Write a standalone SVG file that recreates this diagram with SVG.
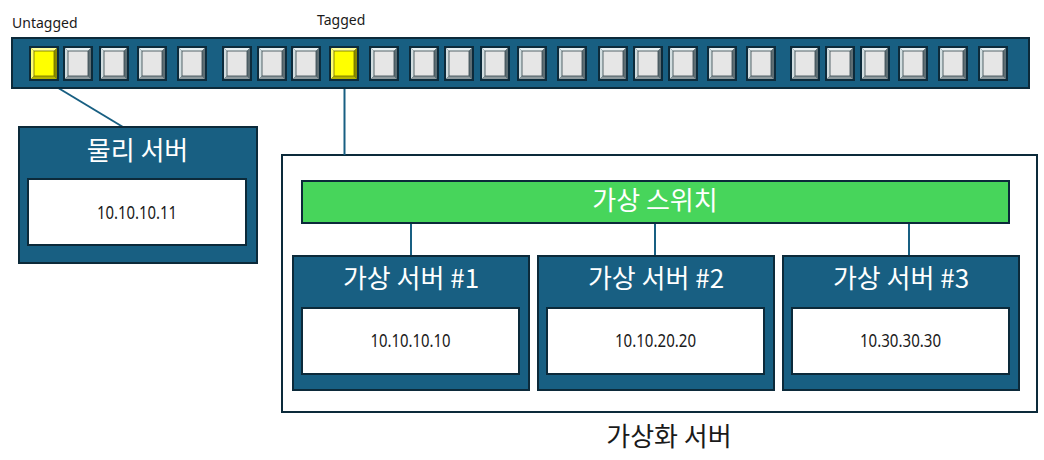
<svg xmlns="http://www.w3.org/2000/svg" xmlns:xlink="http://www.w3.org/1999/xlink" width="1044" height="460" viewBox="0 0 1044 460">
<style>
.blue{fill:#185f82;stroke:#0c2a3a;stroke-width:2}
.white{fill:#ffffff;stroke:#0c2a3a;stroke-width:2}
.green{fill:#47d55b;stroke:#0c2a3a;stroke-width:2}
.conn{stroke:#185f82;stroke-width:2;fill:none}
.title{font-family:"Noto Sans CJK KR","Noto Sans",sans-serif;font-size:26px;fill:#ffffff;text-anchor:middle}
.ip{font-family:"Noto Sans","Noto Sans CJK KR",sans-serif;font-size:18px;fill:#1a1a1a;text-anchor:middle}
.small{font-family:"Noto Sans",sans-serif;font-size:14px;fill:#1a1a1a}
.label{font-family:"Noto Sans CJK KR","Noto Sans",sans-serif;font-size:26px;fill:#1a1a1a;text-anchor:middle}
</style>
<defs>
<g id="port">
<rect x="0" y="0" width="30" height="35" fill="#0d2b3b"/>
<polygon points="2,2 28,2 25,5 5,5" fill="#e9f1f3"/>
<polygon points="2,2 5,5 5,30 2,33" fill="#d2dde0"/>
<polygon points="28,2 28,33 25,30 25,5" fill="#5d6d73"/>
<polygon points="2,33 28,33 25,30 5,30" fill="#8e9a9e"/>
<rect x="5" y="5" width="20" height="25" fill="#e6e6e6" stroke="#33454c" stroke-width="0.8"/>
</g>
<g id="portY">
<rect x="0" y="0" width="30" height="35" fill="#0d2b3b"/>
<polygon points="2,2 28,2 25,5 5,5" fill="#ffff99"/>
<polygon points="2,2 5,5 5,30 2,33" fill="#ffff70"/>
<polygon points="28,2 28,33 25,30 25,5" fill="#8a8a00"/>
<polygon points="2,33 28,33 25,30 5,30" fill="#b5b500"/>
<rect x="5" y="5" width="20" height="25" fill="#ffff00" stroke="#6b6b00" stroke-width="0.8"/>
</g>
</defs>

<g id="virtualization-server">
<rect class="white" x="282" y="155" width="755" height="257"/>
<text class="label" x="669" y="446">가상화 서버</text>
</g>

<g id="connectors">
<line class="conn" x1="45" y1="80" x2="123" y2="127"/>
<line class="conn" x1="344.5" y1="81" x2="344.5" y2="155"/>
<line class="conn" x1="411" y1="223" x2="411" y2="256"/>
<line class="conn" x1="655" y1="223" x2="655" y2="256"/>
<line class="conn" x1="909" y1="223" x2="909" y2="256"/>
</g>

<g id="switch">
<text class="small" x="12" y="28">Untagged</text>
<text class="small" x="317" y="25">Tagged</text>
<rect class="blue" x="12" y="38" width="1017" height="50"/>
<use xlink:href="#portY" x="29" y="46"/>
<use xlink:href="#port" x="63" y="46"/>
<use xlink:href="#port" x="99" y="46"/>
<use xlink:href="#port" x="137" y="46"/>
<use xlink:href="#port" x="177" y="46"/>
<use xlink:href="#port" x="222" y="46"/>
<use xlink:href="#port" x="257" y="46"/>
<use xlink:href="#port" x="291" y="46"/>
<use xlink:href="#portY" x="329" y="46"/>
<use xlink:href="#port" x="369" y="46"/>
<use xlink:href="#port" x="409" y="46"/>
<use xlink:href="#port" x="444" y="46"/>
<use xlink:href="#port" x="480" y="46"/>
<use xlink:href="#port" x="517" y="46"/>
<use xlink:href="#port" x="557" y="46"/>
<use xlink:href="#port" x="598" y="46"/>
<use xlink:href="#port" x="633" y="46"/>
<use xlink:href="#port" x="668" y="46"/>
<use xlink:href="#port" x="707" y="46"/>
<use xlink:href="#port" x="746" y="46"/>
<use xlink:href="#port" x="790" y="46"/>
<use xlink:href="#port" x="825" y="46"/>
<use xlink:href="#port" x="860" y="46"/>
<use xlink:href="#port" x="898" y="46"/>
<use xlink:href="#port" x="938" y="46"/>
<use xlink:href="#port" x="978" y="46"/>
</g>

<g id="physical-server">
<rect class="blue" x="19" y="127" width="238" height="136"/>
<text class="title" x="137.5" y="160">물리 서버</text>
<rect class="white" x="28" y="179" width="218" height="66"/>
<text class="ip" x="137" y="219" textLength="80" lengthAdjust="spacingAndGlyphs">10.10.10.11</text>
</g>

<g id="virtual-switch">
<rect class="green" x="302" y="181" width="707" height="42"/>
<text class="title" x="655" y="210">가상 스위치</text>
</g>

<g id="vm1">
<rect class="blue" x="293" y="256" width="236" height="134"/>
<text class="title" x="411" y="288">가상 서버 #1</text>
<rect class="white" x="302" y="308" width="217" height="66"/>
<text class="ip" x="410.5" y="347" textLength="80" lengthAdjust="spacingAndGlyphs">10.10.10.10</text>
</g>

<g id="vm2">
<rect class="blue" x="538" y="256" width="236" height="134"/>
<text class="title" x="656" y="288">가상 서버 #2</text>
<rect class="white" x="547" y="308" width="217" height="66"/>
<text class="ip" x="655.5" y="347" textLength="81" lengthAdjust="spacingAndGlyphs">10.10.20.20</text>
</g>

<g id="vm3">
<rect class="blue" x="783" y="256" width="236" height="134"/>
<text class="title" x="901" y="288">가상 서버 #3</text>
<rect class="white" x="792" y="308" width="217" height="66"/>
<text class="ip" x="900.5" y="347" textLength="81" lengthAdjust="spacingAndGlyphs">10.30.30.30</text>
</g>
</svg>
